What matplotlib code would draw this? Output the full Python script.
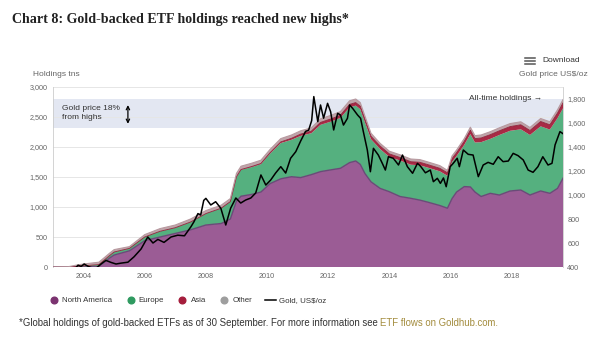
import matplotlib
matplotlib.use("Agg")
import matplotlib.pyplot as plt
import numpy as np
from matplotlib.lines import Line2D

plt.rcParams["font.family"] = ["Liberation Sans", "DejaVu Sans"]

_NA_COLOR = "#9b5c95"
_NA_EDGE = "#6a4b78"
_EUROPE_COLOR = "#55b07f"
_ASIA_COLOR = "#a82a45"
_OTHER_COLOR = "#bfa5aa"
_BAND_COLOR = "#e3e7f2"
_TEXT = "#333333"
_TICK_TEXT = "#666666"

# ETF holdings (tonnes), stacked by region
hold_years = [2003.0, 2003.5, 2003.75, 2004.0, 2004.5, 2004.85, 2005.0, 2005.5, 2006.0, 2006.5,
              2007.0, 2007.5, 2008.0, 2008.5, 2008.8, 2009.0, 2009.15, 2009.5, 2009.8, 2010.1,
              2010.45, 2010.8, 2011.1, 2011.45, 2011.75, 2012.1, 2012.4, 2012.7, 2012.9, 2013.05,
              2013.2, 2013.4, 2013.7, 2014.0, 2014.35, 2014.7, 2015.0, 2015.3, 2015.65, 2015.9,
              2016.05, 2016.2, 2016.45, 2016.65, 2016.8, 2017.0, 2017.3, 2017.6, 2017.95, 2018.3,
              2018.6, 2018.95, 2019.25, 2019.5, 2019.68]
north_america = [0, 0, 0, 0, 10, 150, 200, 270, 440, 500,
                 560, 620, 700, 725, 800, 1100, 1180, 1210, 1250, 1390,
                 1470, 1505, 1490, 1540, 1590, 1620, 1645, 1740, 1767, 1710,
                 1560, 1420, 1310, 1255, 1175, 1145, 1115, 1075, 1025, 980,
                 1140, 1250, 1340, 1335, 1250, 1175, 1228, 1200, 1267, 1283,
                 1200, 1267, 1228, 1310, 1480]
europe = [0, 0, 10, 20, 30, 40, 50, 40, 60, 95,
          95, 130, 190, 255, 290, 400, 440, 455, 465, 500,
          595, 615, 695, 690, 780, 805, 840, 920, 923, 920,
          855, 710, 655, 580, 600, 560, 580, 575, 570, 540,
          610, 600, 695, 880, 825, 905, 907, 1000, 1003, 1012,
          1000, 1078, 1062, 1170, 1165]
asia = [0, 0, 0, 0, 0, 0, 0, 0, 0, 0,
        0, 0, 0, 0, 0, 5, 5, 10, 10, 15,
        20, 25, 30, 35, 40, 45, 45, 50, 50, 50,
        50, 50, 50, 50, 50, 50, 50, 50, 50, 50,
        55, 55, 60, 65, 65, 70, 70, 70, 70, 75,
        75, 80, 80, 85, 90]
other = [0, 5, 20, 30, 40, 40, 40, 30, 40, 45,
         45, 50, 50, 50, 50, 55, 55, 55, 55, 55,
         55, 55, 55, 55, 60, 60, 60, 60, 60, 60,
         55, 50, 45, 45, 45, 45, 45, 45, 45, 40,
         45, 45, 45, 50, 50, 50, 50, 50, 50, 50,
         50, 50, 50, 55, 55]

# Gold price, US$/oz
gold_years = [2003.04, 2003.27, 2003.5, 2003.69, 2003.82, 2003.92, 2004.02, 2004.15, 2004.25, 2004.41,
              2004.57, 2004.73, 2004.9, 2005.06, 2005.22, 2005.45, 2005.65, 2005.88, 2006.1, 2006.27,
              2006.43, 2006.63, 2006.86, 2007.08, 2007.3, 2007.51, 2007.61, 2007.74, 2007.83, 2007.93,
              2008.0, 2008.16, 2008.32, 2008.49, 2008.65, 2008.81, 2008.98, 2009.14, 2009.3, 2009.47,
              2009.63, 2009.8, 2009.96, 2010.12, 2010.28, 2010.45, 2010.61, 2010.77, 2010.94, 2011.1,
              2011.26, 2011.36, 2011.46, 2011.53, 2011.66, 2011.75, 2011.85, 2011.98, 2012.08, 2012.18,
              2012.31, 2012.4, 2012.5, 2012.63, 2012.7, 2012.8, 2012.96, 2013.06, 2013.15, 2013.28,
              2013.38, 2013.48, 2013.64, 2013.77, 2013.87, 2013.97, 2014.13, 2014.3, 2014.43, 2014.59,
              2014.76, 2014.92, 2015.02, 2015.18, 2015.34, 2015.44, 2015.57, 2015.67, 2015.77, 2015.86,
              2015.99, 2016.09, 2016.22, 2016.29, 2016.42, 2016.58, 2016.74, 2016.91, 2017.07, 2017.23,
              2017.4, 2017.56, 2017.72, 2017.89, 2018.05, 2018.21, 2018.38, 2018.54, 2018.7, 2018.86,
              2019.02, 2019.19, 2019.32, 2019.42, 2019.58, 2019.71]
gold_price = [360, 345, 355, 380, 415, 405, 425, 405, 395, 390,
              425, 455, 438, 425, 432, 440, 485, 550, 650, 600,
              630, 605, 650, 665, 660, 735, 777, 845, 833, 955,
              972, 917, 944, 889, 750, 890, 975, 933, 958, 975,
              1017, 1167, 1083, 1125, 1183, 1236, 1183, 1306, 1361, 1450,
              1530, 1540, 1620, 1820, 1611, 1750, 1640, 1764, 1694, 1542,
              1681, 1667, 1583, 1639, 1750, 1722, 1667, 1639, 1528, 1375,
              1194, 1389, 1333, 1264, 1208, 1319, 1306, 1250, 1333, 1236,
              1181, 1264, 1240, 1185, 1208, 1111, 1139, 1097, 1142, 1069,
              1236, 1264, 1306, 1236, 1375, 1339, 1333, 1153, 1250, 1272,
              1256, 1319, 1278, 1283, 1347, 1328, 1292, 1208, 1189, 1236,
              1319, 1250, 1264, 1417, 1528, 1506]

# gold price 18% from highs
band_gold = [1555, 1800]

left_ticks = [0, 500, 1000, 1500, 2000, 2500, 3000]
right_ticks = [400, 600, 800, 1000, 1200, 1400, 1600, 1800]
year_ticks = [2004, 2006, 2008, 2010, 2012, 2014, 2016, 2018]

LEFT_LIM = (0, 3000)
RIGHT_LIM = (400, 1900)


def gold_to_tonnes(value):
    # map a right-axis value onto the left axis scale
    frac = (value - RIGHT_LIM[0]) / (RIGHT_LIM[1] - RIGHT_LIM[0])
    return LEFT_LIM[0] + frac * (LEFT_LIM[1] - LEFT_LIM[0])


fig = plt.figure(figsize=(6, 3.38), dpi=100)
ax = fig.add_axes([53 / 600, 71 / 338, 510 / 600, 180 / 338])
ax2 = ax.twinx()

ax.set_xlim(2003.0, 2019.68)
ax.set_ylim(*LEFT_LIM)
ax2.set_ylim(*RIGHT_LIM)

ax.axhspan(gold_to_tonnes(band_gold[0]), gold_to_tonnes(band_gold[1]),
           color=_BAND_COLOR, zorder=0.2, lw=0)
ax.set_axisbelow(True)
ax.grid(axis="y", color="#e6e6e6", lw=0.7, zorder=0.5)

ax.stackplot(hold_years, north_america, europe, asia, other,
             colors=[_NA_COLOR, _EUROPE_COLOR, _ASIA_COLOR, _OTHER_COLOR],
             lw=0, zorder=2)
stack = np.cumsum([north_america, europe, asia, other], axis=0)
ax.plot(hold_years, stack[0], color=_NA_EDGE, lw=1.0, zorder=3)
ax.plot(hold_years, stack[2], color="#8e2038", lw=0.6, zorder=3)
ax.plot(hold_years, stack[3], color="#b89aa0", lw=0.8, zorder=3)

ax2.plot(gold_years, gold_price, color="black", lw=1.1)

# axes styling
ax.set_yticks(left_ticks)
ax.set_yticklabels([f"{v:,}" for v in left_ticks])
ax2.set_yticks(right_ticks)
ax2.set_yticklabels([f"{v:,}" for v in right_ticks])
ax.set_xticks(year_ticks)
ax.set_xticklabels([str(y) for y in year_ticks])
ax.tick_params(axis="y", length=0, labelsize=5.2, labelcolor=_TICK_TEXT, pad=4)
ax.tick_params(axis="x", length=0, labelsize=5.2, labelcolor=_TICK_TEXT, pad=4)
ax2.tick_params(axis="y", length=0, labelsize=5.2, labelcolor=_TICK_TEXT, pad=3)
for a in (ax, ax2):
    a.spines["top"].set_visible(False)
    a.spines["bottom"].set_visible(False)
ax.spines["right"].set_visible(False)
ax.spines["left"].set_color("#cccccc")
ax.spines["left"].set_linewidth(0.6)
ax2.spines["left"].set_visible(False)
ax2.spines["right"].set_color("#cccccc")
ax2.spines["right"].set_linewidth(0.6)

# annotations inside the plot
ax.text(2019.0, 2815, "All-time holdings \u2192", ha="right", va="center",
        fontsize=6, color=_TEXT, zorder=5)
ax.text(2003.28, 2570, "Gold price 18%\nfrom highs", ha="left", va="center",
        fontsize=6, color=_TEXT, linespacing=1.3, zorder=5)
ax.annotate("", xy=(2005.45, 2340), xytext=(2005.45, 2745),
            arrowprops=dict(arrowstyle="<->", color="black", lw=0.9,
                            mutation_scale=6), zorder=5)

# titles and header
fig.text(12 / 600, 1 - 23 / 338, "Chart 8: Gold-backed ETF holdings reached new highs*",
         fontsize=10.1, fontweight="bold", family="Liberation Serif", color="#222222",
         va="baseline")
fig.text(33 / 600, 1 - 75 / 338, "Holdings tns", fontsize=6, color=_TICK_TEXT, va="center")
fig.text(588 / 600, 1 - 74 / 338, "Gold price US\\$/oz", fontsize=6, color=_TICK_TEXT,
         va="center", ha="right")
fig.text(542 / 600, 1 - 61 / 338, "Download", fontsize=6, color=_TEXT, va="center")
for yy in (58, 61, 64):
    fig.add_artist(Line2D([525 / 600, 535 / 600], [1 - yy / 338] * 2, color="#555555", lw=1.1))

# legend
handles = [
    Line2D([], [], ls="", marker="o", ms=4.8, color="#7b3370"),
    Line2D([], [], ls="", marker="o", ms=4.8, color="#2f9a60"),
    Line2D([], [], ls="", marker="o", ms=4.8, color="#a51d3c"),
    Line2D([], [], ls="", marker="o", ms=4.8, color="#9e9e9e"),
    Line2D([], [], color="black", lw=1.1),
]
labels = ["North America", "Europe", "Asia", "Other", "Gold, US\\$/oz"]
fig.legend(handles, labels, loc="center left", bbox_to_anchor=(48.5 / 600, 1 - 300.7 / 338),
           ncol=5, frameon=False, fontsize=5.7, handlelength=1.4, handletextpad=0.35,
           columnspacing=1.6, borderpad=0, borderaxespad=0, labelcolor=_TEXT)

# footnote with coloured link text
note = fig.text(19 / 600, 1 - 326 / 338,
                "*Global holdings of gold-backed ETFs as of 30 September. For more information see ",
                fontsize=6.9, color=_TEXT, va="baseline")
ax.annotate("ETF flows on Goldhub.com.", xy=(1, 0), xycoords=note, va="bottom",
            ha="left", fontsize=6.9, color="#a48d3f")

fig.savefig("out.png", dpi=100, facecolor="white")
